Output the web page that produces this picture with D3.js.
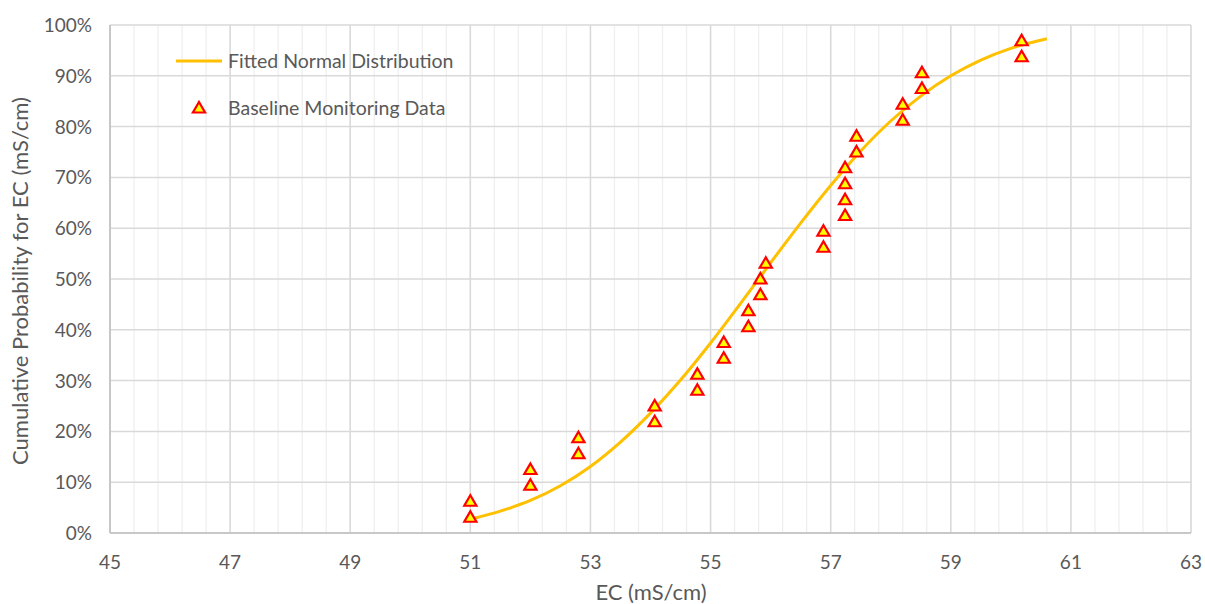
<!DOCTYPE html>
<html>
<head>
<meta charset="utf-8">
<script src="https://cdn.jsdelivr.net/npm/d3@7"></script>
<style>
  html, body { margin: 0; padding: 0; background: #fff; }
  svg text { font-family: Lato, "Open Sans", sans-serif; fill: #595959; }
</style>
</head>
<body>
<svg id="chart"></svg>
<script>
// baseline monitoring data (EC in mS/cm, cumulative probability in %)
const obsEC = [51, 51, 52, 52, 52.8, 52.8, 54.07, 54.07, 54.78, 54.78, 55.22, 55.22,
  55.63, 55.63, 55.83, 55.83, 55.92, 56.88, 56.88, 57.24, 57.24, 57.24, 57.24,
  57.43, 57.43, 58.2, 58.2, 58.52, 58.52, 60.18, 60.18]
const obsProb = [3.1, 6.25, 9.4, 12.5, 15.6, 18.75, 21.9, 25, 28.1, 31.25, 34.4, 37.5,
  40.6, 43.75, 46.9, 50, 53.1, 56.25, 59.4, 62.5, 65.6, 68.75, 71.9,
  75, 78.1, 81.25, 84.4, 87.5, 90.6, 93.75, 96.9]

// fitted normal distribution curve
const fitEC = [51, 51.5, 52, 52.5, 53, 53.5, 54, 54.5, 55, 55.5, 56, 56.5, 57, 57.5,
  58, 58.5, 59, 59.5, 60, 60.6]
const fitProb = [2.7, 4.3, 6.4, 9.3, 13.1, 17.9, 23.6, 30.1, 37.4, 45.2, 53.2, 61.0,
  68.4, 75.2, 81.1, 86.0, 90.0, 93.1, 95.4, 97.3]

const xTicks = [45, 47, 49, 51, 53, 55, 57, 59, 61, 63]
const yTicks = [0, 10, 20, 30, 40, 50, 60, 70, 80, 90, 100]

const width = 1205, height = 604
const margin = { left: 110, right: 14, top: 25, bottom: 71 }

const svg = d3.select('#chart')
  .attr('width', width)
  .attr('height', height)

const x = d3.scaleLinear().domain([45, 63]).range([margin.left, width - margin.right])
const y = d3.scaleLinear().domain([0, 100]).range([height - margin.bottom, margin.top])

// minor vertical grid every 0.4
const minor = d3.range(0, 46).map(i => 45 + i * 0.4).filter(v => v <= 63.001)
svg.append('g')
  .selectAll('line')
  .data(minor)
  .join('line')
  .attr('x1', d => x(d)).attr('x2', d => x(d))
  .attr('y1', y(0)).attr('y2', y(100))
  .attr('stroke', '#efefef')
  .attr('stroke-width', 1.3)

// major grid
svg.append('g')
  .selectAll('line')
  .data(xTicks)
  .join('line')
  .attr('x1', d => x(d)).attr('x2', d => x(d))
  .attr('y1', y(0)).attr('y2', y(100))
  .attr('stroke', '#d9d9d9')
  .attr('stroke-width', 1.5)

svg.append('g')
  .selectAll('line')
  .data(yTicks)
  .join('line')
  .attr('x1', x(45)).attr('x2', x(63))
  .attr('y1', d => y(d)).attr('y2', d => y(d))
  .attr('stroke', '#d9d9d9')
  .attr('stroke-width', 1.5)

// axes lines
svg.append('line')
  .attr('x1', x(45)).attr('x2', x(63))
  .attr('y1', y(0)).attr('y2', y(0))
  .attr('stroke', '#bfbfbf').attr('stroke-width', 1.5)
svg.append('line')
  .attr('x1', x(45)).attr('x2', x(45))
  .attr('y1', y(0)).attr('y2', y(100))
  .attr('stroke', '#bfbfbf').attr('stroke-width', 1.5)

// tick labels
svg.append('g')
  .selectAll('text')
  .data(xTicks)
  .join('text')
  .attr('x', d => x(d))
  .attr('y', 569)
  .attr('text-anchor', 'middle')
  .attr('font-size', 19)
  .text(d => d)

svg.append('g')
  .selectAll('text')
  .data(yTicks)
  .join('text')
  .attr('x', 92)
  .attr('y', d => y(d) + 7)
  .attr('text-anchor', 'end')
  .attr('font-size', 19)
  .text(d => d + '%')

// axis titles
svg.append('text')
  .attr('x', 651)
  .attr('y', 600)
  .attr('text-anchor', 'middle')
  .attr('font-size', 22)
  .text('EC (mS/cm)')

svg.append('text')
  .attr('transform', `translate(28,281) rotate(-90)`)
  .attr('text-anchor', 'middle')
  .attr('font-size', 22)
  .text('Cumulative Probability for EC (mS/cm)')

// fitted curve
const line = d3.line()
  .x((d, i) => x(fitEC[i]))
  .y(d => y(d))
  .curve(d3.curveMonotoneX)

svg.append('path')
  .attr('d', line(fitProb))
  .attr('fill', 'none')
  .attr('stroke', '#FFC000')
  .attr('stroke-width', 3)

// triangle markers
const tri = d3.symbol().type(d3.symbolTriangle).size(64)

svg.append('g')
  .selectAll('path')
  .data(obsProb)
  .join('path')
  .attr('d', tri)
  .attr('transform', (d, i) => `translate(${x(obsEC[i])},${y(d) + 1})`)
  .attr('fill', '#FFFF00')
  .attr('stroke', '#FF0000')
  .attr('stroke-width', 2.2)

// legend
const legend = svg.append('g')
legend.append('line')
  .attr('x1', 176).attr('x2', 222)
  .attr('y1', 61).attr('y2', 61)
  .attr('stroke', '#FFC000').attr('stroke-width', 3)
legend.append('text')
  .attr('x', 228).attr('y', 68)
  .attr('font-size', 19.5)
  .text('Fitted Normal Distribution')
legend.append('path')
  .attr('d', tri)
  .attr('transform', 'translate(199,109)')
  .attr('fill', '#FFFF00')
  .attr('stroke', '#FF0000')
  .attr('stroke-width', 2.2)
legend.append('text')
  .attr('x', 228).attr('y', 115)
  .attr('font-size', 19.5)
  .text('Baseline Monitoring Data')
</script>
</body>
</html>
